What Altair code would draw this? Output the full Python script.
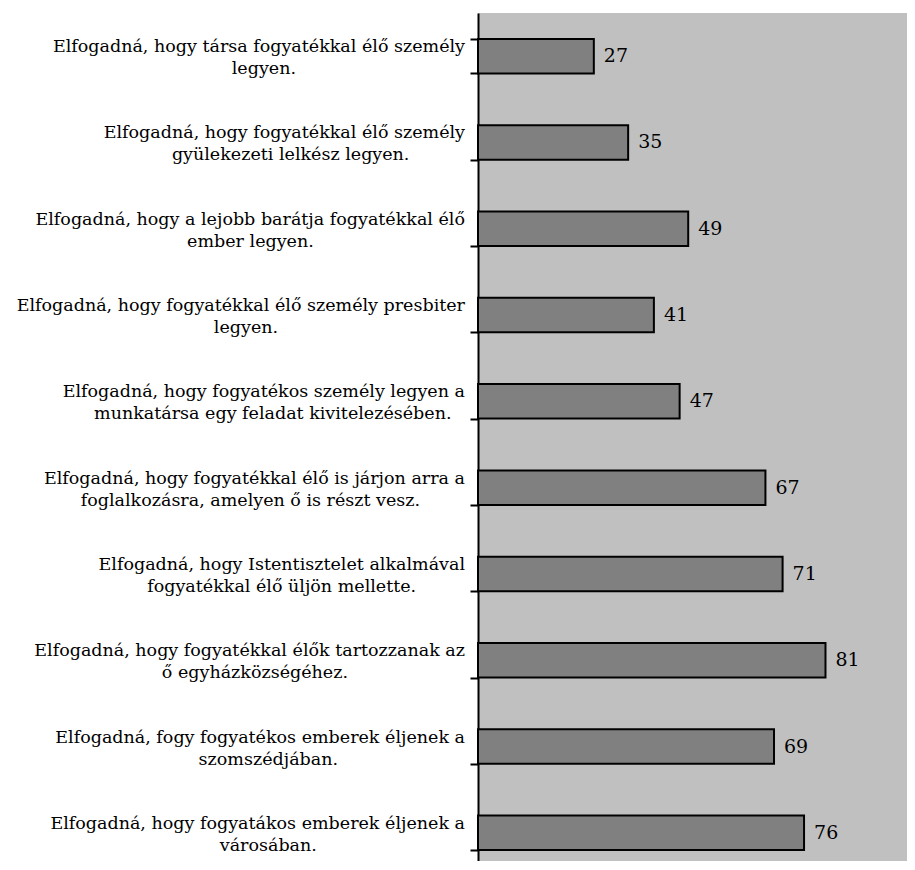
import altair as alt
import pandas as pd

line1 = [
    "Elfogadná, hogy társa fogyatékkal élő személy",
    "Elfogadná, hogy fogyatékkal élő személy",
    "Elfogadná, hogy a lejobb barátja fogyatékkal élő",
    "Elfogadná, hogy fogyatékkal élő személy presbiter",
    "Elfogadná, hogy fogyatékos személy legyen a",
    "Elfogadná, hogy fogyatékkal élő is járjon arra a",
    "Elfogadná, hogy Istentisztelet alkalmával",
    "Elfogadná, hogy fogyatékkal élők tartozzanak az",
    "Elfogadná, fogy fogyatékos emberek éljenek a",
    "Elfogadná, hogy fogyatákos emberek éljenek a",
]
line2 = [
    "legyen.",
    "gyülekezeti lelkész legyen.",
    "ember legyen.",
    "legyen.",
    "munkatársa egy feladat kivitelezésében.",
    "foglalkozásra, amelyen ő is részt vesz.",
    "fogyatékkal élő üljön mellette.",
    "ő egyházközségéhez.",
    "szomszédjában.",
    "városában.",
]
values = [27, 35, 49, 41, 47, 67, 71, 81, 69, 76]

df = pd.DataFrame({
    "cat": [a + " " + b for a, b in zip(line1, line2)],
    "line1": line1,
    "line2": line2,
    "value": values,
})

FONT = "DejaVu Serif"
LABEL_SIZE = 17.5

y_enc = alt.Y(
    "cat:N",
    sort=None,
    scale=alt.Scale(paddingInner=0.6, paddingOuter=0.3, range=[0, 863]),
    axis=alt.Axis(
        labels=False, title=None, tickBand="extent",
        domainColor="black", domainWidth=2,
        tickColor="black", tickWidth=2, tickSize=8,
    ),
)

base = alt.Chart(df)

bars = base.mark_bar(color="#808080", stroke="black", strokeWidth=2).encode(
    y=y_enc,
    x=alt.X("value:Q", scale=alt.Scale(domain=[0, 97]), axis=None),
)

vals = base.mark_text(
    align="left", baseline="middle", dx=10, font=FONT, fontSize=19, color="black"
).encode(
    y=alt.Y("cat:N", sort=None),
    x=alt.X("value:Q"),
    text=alt.Text("value:Q"),
)

lab1 = base.mark_text(
    align="right", baseline="middle", dy=-9, font=FONT, fontSize=LABEL_SIZE, color="black"
).encode(
    y=alt.Y("cat:N", sort=None),
    x=alt.value(-13),
    text="line1:N",
)

lab2 = base.transform_calculate(
    cx="-13 - length(datum.line1) * 4.47"
).mark_text(
    align="center", baseline="middle", dy=13, font=FONT, fontSize=LABEL_SIZE, color="black"
).encode(
    y=alt.Y("cat:N", sort=None),
    x=alt.X("cx:Q", scale=None, axis=None),
    text="line2:N",
)

chart = alt.layer(bars, vals, lab1, lab2).properties(
    width=429,
    height=848,
    autosize=alt.AutoSizeParams(type="none"),
    padding={"left": 470, "top": 5, "right": 0, "bottom": 0},
).configure_view(
    fill="#C0C0C0", strokeWidth=0
)

chart.save("out.html", embed_options={"renderer": "svg", "actions": False})
